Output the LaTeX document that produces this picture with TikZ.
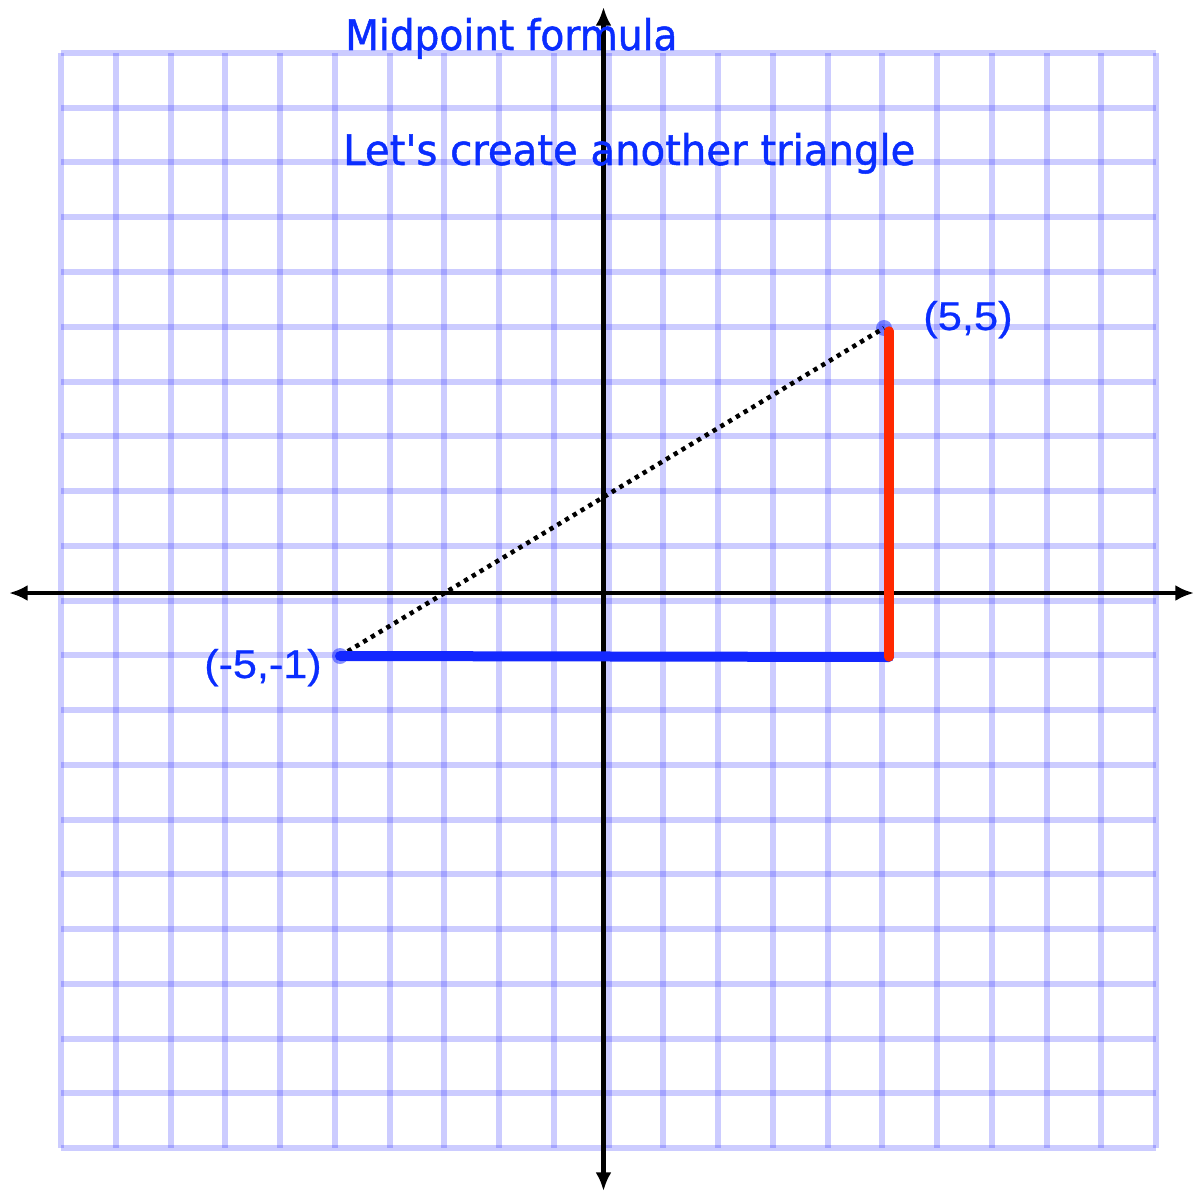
\documentclass[tikz,border=0pt]{standalone}
\usepackage{fontspec}
\setmainfont{DejaVu Sans}[FakeBold=1.2]
\newfontfamily\labfont{Liberation Sans}[FakeBold=0.6]
\usetikzlibrary{arrows.meta}
\definecolor{txtblue}{RGB}{10,45,255}
\definecolor{segblue}{RGB}{20,40,255}
\definecolor{segred}{RGB}{255,40,0}
\tikzset{
  gridline/.style={blue, opacity=0.2, line width=4.5pt},
  axisline/.style={black, line width=3.2pt, arrows={Latex[length=14pt,width=12pt]-Latex[length=14pt,width=12pt]}},
  titletext/.style={anchor=base west, inner sep=0pt, text=txtblue},
  pointlabel/.style={anchor=base west, inner sep=0pt, text=txtblue},
  enddot/.style={circle, fill=segblue, fill opacity=0.5, minimum size=12pt, inner sep=0pt},
  slope/.style={black, line width=3.4pt, dash pattern=on 3.2pt off 3.6pt},
  baseseg/.style={segblue, line width=7.5pt, line cap=round},
  riseseg/.style={segred, line width=7pt, line cap=round}
}
\begin{document}
\begin{tikzpicture}[x=0.75pt, y=-0.75pt]
\useasboundingbox (0,0) rectangle (1194,1191);
% grid
\foreach \i in {0,...,20} {
  \draw[gridline] ({61+54.75*\i},53) -- ({61+54.75*\i},1148);
  \draw[gridline] (61,{53+54.75*\i}) -- (1156,{53+54.75*\i});
}
% axes
\coordinate (xl) at (9,593);
\coordinate (xr) at (1194,593);
\coordinate (yt) at (603.5,7);
\coordinate (yb) at (603.5,1191);
\draw[axisline] (xl) -- (xr);
\draw[axisline] (yb) -- (yt);
% titles
\node[titletext] (title) at (345,50) {\resizebox{249pt}{24pt}{Midpoint formula}};
\node[titletext] (sub) at (343,165) {\resizebox{429pt}{24pt}{Let\textquotesingle s create another triangle}};
% points
\coordinate (P) at (340,656);
\coordinate (Q) at (884,328);
\coordinate (R) at (889,657);
\coordinate (Rt) at (889,331);
\node[enddot] (dP) at (P) {};
\node[enddot] (dQ) at (Q) {};
\draw[slope] (P) -- (Q);
\draw[baseseg] (P) -- (R);
\draw[riseseg] (Rt) -- (R);
% labels
\node[pointlabel] (lQ) at (923,330) {\resizebox*{67pt}{28pt}{\labfont (5,5)}};
\node[pointlabel] (lP) at (204,678) {\resizebox*{88pt}{28pt}{\labfont (-5,-1)}};
\end{tikzpicture}
\end{document}
